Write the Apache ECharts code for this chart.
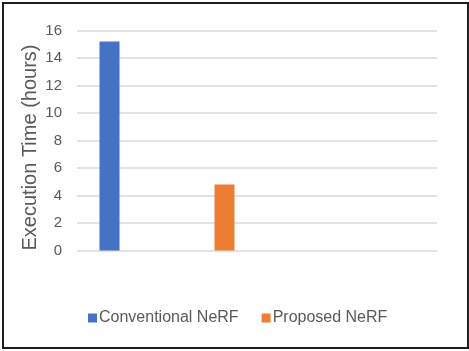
<!DOCTYPE html>
<html>
<head>
<meta charset="utf-8">
<script src="https://cdn.jsdelivr.net/npm/echarts@6/dist/echarts.min.js"></script>
<style>
	html, body {margin: 0; padding: 0; background: #fff;}
	#frame {position: absolute; left: 2px; top: 2px; width: 463px; height: 343px; border: 2px solid #1e1e1e;}
	#main {width: 463px; height: 343px;}
</style>
</head>
<body>
<div id="frame"><div id="main"></div></div>
<script>
// two slots on the x axis, the second one is empty (as in the original sheet)
const categories = ['', ''];
const conventional = [15.2, '-'];
const proposed = [4.8, '-'];
const yTicks = {min: 0, max: 16, interval: 2};

const textColor = '#595959';
const myChart = echarts.init(document.getElementById('main'));
myChart.setOption({
	animation: false,
	textStyle: {fontFamily: 'Liberation Sans, Arial, sans-serif'},
	grid: {left: 73, right: 30, top: 26.5, bottom: 96.5},
	legend: {
		bottom: 16,
		left: 79,
		itemWidth: 9,
		itemHeight: 9,
		itemGap: 23,
		icon: 'rect',
		textStyle: {fontSize: 16, color: textColor, padding: [0, 0, 0, -3]},
		data: ['Conventional NeRF', 'Proposed NeRF']
	},
	xAxis: {
		type: 'category',
		data: categories,
		axisLine: {show: false},
		axisTick: {show: false},
		axisLabel: {show: false}
	},
	yAxis: {
		type: 'value',
		min: yTicks.min,
		max: yTicks.max,
		interval: yTicks.interval,
		name: 'Execution Time (hours)',
		nameLocation: 'middle',
		nameGap: 37,
		nameMoveOverlap: false,
		nameTextStyle: {fontSize: 20, color: textColor, padding: [0, 14, 0, 0]},
		axisLine: {show: false},
		axisTick: {show: false},
		axisLabel: {fontSize: 15, color: textColor, margin: 15},
		splitLine: {lineStyle: {color: '#d9d9d9', width: 1.5}}
	},
	series: [
		{
			name: 'Conventional NeRF',
			type: 'bar',
			data: conventional,
			barWidth: 20,
			barGap: '475%',
			itemStyle: {color: '#4472c4'}
		},
		{
			name: 'Proposed NeRF',
			type: 'bar',
			data: proposed,
			barWidth: 20,
			itemStyle: {color: '#ed7d31'}
		}
	]
});
</script>
</body>
</html>
